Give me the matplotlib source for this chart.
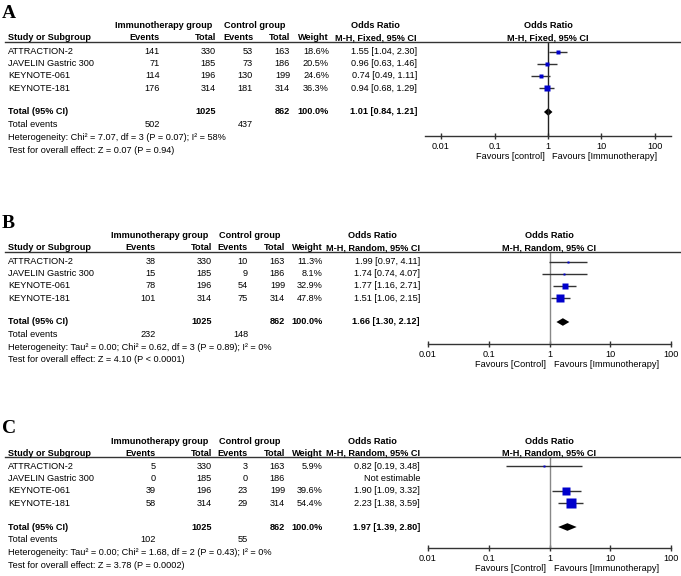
import matplotlib
matplotlib.use("Agg")
import matplotlib.pyplot as plt
from matplotlib.lines import Line2D

plt.rcParams['font.family'] = ['Liberation Sans', 'DejaVu Sans']

# ---- data ----
studies = ["ATTRACTION-2", "JAVELIN Gastric 300", "KEYNOTE-061", "KEYNOTE-181"]
imm_total = [330, 185, 196, 314]
ctl_total = [163, 186, 199, 314]
sum_totals = [1025, 862]

a_imm_events = [141, 71, 114, 176]
a_ctl_events = [53, 73, 130, 181]
a_weight = [18.6, 20.5, 24.6, 36.3]
a_or = [1.55, 0.96, 0.74, 0.94]
a_lo = [1.04, 0.63, 0.49, 0.68]
a_hi = [2.30, 1.46, 1.11, 1.29]
a_pooled = [1.01, 0.84, 1.21]
a_sum_events = [502, 437]
a_het = "Heterogeneity: Chi\u00b2 = 7.07, df = 3 (P = 0.07); I\u00b2 = 58%"
a_test = "Test for overall effect: Z = 0.07 (P = 0.94)"

b_imm_events = [38, 15, 78, 101]
b_ctl_events = [10, 9, 54, 75]
b_weight = [11.3, 8.1, 32.9, 47.8]
b_or = [1.99, 1.74, 1.77, 1.51]
b_lo = [0.97, 0.74, 1.16, 1.06]
b_hi = [4.11, 4.07, 2.71, 2.15]
b_pooled = [1.66, 1.30, 2.12]
b_sum_events = [232, 148]
b_het = "Heterogeneity: Tau\u00b2 = 0.00; Chi\u00b2 = 0.62, df = 3 (P = 0.89); I\u00b2 = 0%"
b_test = "Test for overall effect: Z = 4.10 (P < 0.0001)"

c_imm_events = [5, 0, 39, 58]
c_ctl_events = [3, 0, 23, 29]
c_weight = [5.9, None, 39.6, 54.4]
c_or = [0.82, None, 1.90, 2.23]
c_lo = [0.19, None, 1.09, 1.38]
c_hi = [3.48, None, 3.32, 3.59]
c_pooled = [1.97, 1.39, 2.80]
c_sum_events = [102, 55]
c_het = "Heterogeneity: Tau\u00b2 = 0.00; Chi\u00b2 = 1.68, df = 2 (P = 0.43); I\u00b2 = 0%"
c_test = "Test for overall effect: Z = 3.78 (P = 0.0002)"

ticks = [0.01, 0.1, 1, 10, 100]
tick_labels = ["0.01", "0.1", "1", "10", "100"]

W, H = 681, 576
FS = 6.6
fig = plt.figure(figsize=(W / 100, H / 100), dpi=100)


def fx(x):
    return x / W


def fy(y):
    return 1 - y / H


def txt(x, y, s, ha='left', bold=False):
    fig.text(fx(x), fy(y), s, ha=ha, va='center', fontsize=FS,
             fontweight='bold' if bold else 'normal')


def panel(top, letter, method, cols, ev1, ev2, weight, orv, lo, hi, pooled,
          sum_events, het, test, flo, frx, xlim, axis_y, vcol, fav_ctl):
    c_ev1, c_tot1, c_ev2, c_tot2, c_wt, c_or, c_mid = cols
    fmid = (flo + frx) / 2 if xlim[0] < 0.01 else 549
    fig.text(fx(2), fy(top - 24), letter, fontsize=14, fontweight='bold',
             family='Liberation Serif', va='baseline')
    # headers
    txt((c_ev1 + c_tot1) / 2 - 24, top - 16, "Immunotherapy group", 'center', True)
    txt(c_ev2 + 2, top - 16, "Control group", 'center', True)
    txt(c_mid, top - 16, "Odds Ratio", 'center', True)
    txt(fmid, top - 16, "Odds Ratio", 'center', True)
    txt(8, top - 4, "Study or Subgroup", bold=True)
    txt(c_ev1, top - 4, "Events", 'right', True)
    txt(c_tot1, top - 4, "Total", 'right', True)
    txt(c_ev2, top - 4, "Events", 'right', True)
    txt(c_tot2, top - 4, "Total", 'right', True)
    txt(c_wt, top - 4, "Weight", 'right', True)
    txt(c_mid + 1, top - 4, method, 'center', True)
    txt(fmid, top - 4, method, 'center', True)
    fig.add_artist(Line2D([fx(5), fx(680)], [fy(top), fy(top)], color='#333333', lw=1))

    ax = fig.add_axes([fx(flo), fy(axis_y), fx(frx) - fx(flo), (axis_y - top) / H])
    ax.set_xscale('log')
    ax.set_xlim(*xlim)
    ax.set_ylim(axis_y, top)
    for s in ['left', 'right', 'top']:
        ax.spines[s].set_visible(False)
    ax.spines['bottom'].set_color('#333333')
    ax.spines['bottom'].set_linewidth(1)
    ax.set_yticks([])
    ax.set_xticks(ticks)
    ax.set_xticklabels(tick_labels)
    ax.minorticks_off()
    ax.tick_params(axis='x', direction='inout', length=5, width=1, color='#333333',
                   labelsize=FS, pad=2)
    ax.axvline(1, color=vcol, lw=1)
    ax.patch.set_alpha(0)

    for i, name in enumerate(studies):
        y = top + 9.5 + 12.2 * i
        txt(8, y, name)
        txt(c_ev1, y, str(ev1[i]), 'right')
        txt(c_tot1, y, str(imm_total[i]), 'right')
        txt(c_ev2, y, str(ev2[i]), 'right')
        txt(c_tot2, y, str(ctl_total[i]), 'right')
        if orv[i] is None:
            txt(c_or, y, "Not estimable", 'right')
            continue
        txt(c_wt, y, "%.1f%%" % weight[i], 'right')
        txt(c_or, y, "%.2f [%.2f, %.2f]" % (orv[i], lo[i], hi[i]), 'right')
        ax.plot([lo[i], hi[i]], [y, y], color='#333333', lw=1, solid_capstyle='butt')
        ax.plot(orv[i], y, 's', color='#0000cc', mec='none',
                ms=max(1.6, weight[i] * 0.13))

    yt = top + 70
    txt(8, yt, "Total (95% CI)", bold=True)
    txt(c_tot1, yt, str(sum_totals[0]), 'right', True)
    txt(c_tot2, yt, str(sum_totals[1]), 'right', True)
    txt(c_wt, yt, "100.0%", 'right', True)
    txt(c_or, yt, "%.2f [%.2f, %.2f]" % tuple(pooled), 'right', True)
    ax.fill([pooled[1], pooled[0], pooled[2], pooled[0]],
            [yt, yt - 3.8, yt, yt + 3.8], color='black', lw=0)

    txt(8, top + 82.5, "Total events")
    txt(c_ev1, top + 82.5, str(sum_events[0]), 'right')
    txt(c_ev2, top + 82.5, str(sum_events[1]), 'right')
    txt(8, top + 95.5, het)
    txt(8, top + 108, test)

    ax.annotate(fav_ctl, xy=(1, 0), xycoords=('data', 'axes fraction'),
                xytext=(-2.5, -15), textcoords='offset points', ha='right', va='center',
                fontsize=FS)
    ax.annotate("Favours [Immunotherapy]", xy=(1, 0), xycoords=('data', 'axes fraction'),
                xytext=(3, -15), textcoords='offset points', ha='left', va='center',
                fontsize=FS)


panel(42, "A", "M-H, Fixed, 95% CI", [160, 216, 253, 290, 329, 417, 375],
      a_imm_events, a_ctl_events, a_weight, a_or, a_lo, a_hi, a_pooled,
      a_sum_events, a_het, a_test, 425, 671, (10 ** -2.3, 10 ** 2.3), 136,
      '#222222', "Favours [control]")
panel(252, "B", "M-H, Random, 95% CI", [156, 212, 248, 285, 323, 420, 372],
      b_imm_events, b_ctl_events, b_weight, b_or, b_lo, b_hi, b_pooled,
      b_sum_events, b_het, b_test, 428, 671, (0.01, 100), 344,
      '#888888', "Favours [Control]")
panel(457, "C", "M-H, Random, 95% CI", [156, 212, 248, 285, 323, 420, 372],
      c_imm_events, c_ctl_events, c_weight, c_or, c_lo, c_hi, c_pooled,
      c_sum_events, c_het, c_test, 428, 671, (0.01, 100), 548,
      '#888888', "Favours [Control]")

fig.savefig("out.png", dpi=100)
